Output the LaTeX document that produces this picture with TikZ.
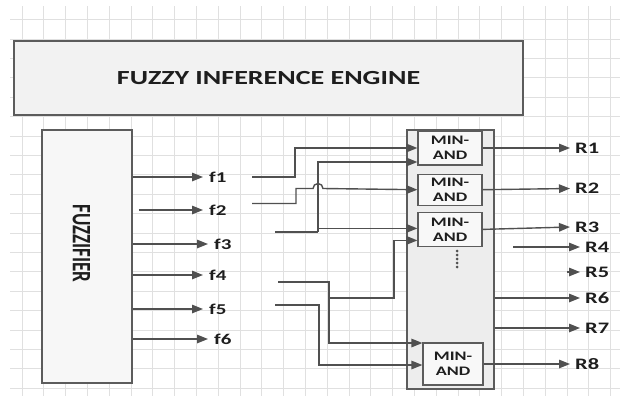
\documentclass[tikz,border=0pt]{standalone}
\usepackage{fontspec}
\setmainfont{Carlito}[FakeStretch=1.4]
\newfontfamily\sidefont{Carlito}
\usepackage{graphicx}
\usetikzlibrary{arrows.meta,positioning}
\definecolor{wire}{HTML}{505050}
\definecolor{frame}{HTML}{5C5C5C}
\definecolor{paper}{HTML}{F2F2F2}
\definecolor{panel}{HTML}{EDEDED}
\definecolor{cellfill}{HTML}{F8F8F8}
\definecolor{gridgray}{HTML}{E0E0E0}
\definecolor{inktext}{HTML}{1E1E1E}

\begin{document}
\begin{tikzpicture}[x=1pt,y=-1pt,
  block/.style={draw=frame, line width=1.6pt, fill=paper, inner sep=0pt, text=inktext},
  cell/.style={draw=frame, line width=1.2pt, fill=cellfill, minimum width=64pt, align=center,
               inner sep=0pt, font=\bfseries\fontsize{13}{15}\selectfont, text=inktext},
  flab/.style={anchor=west, inner sep=0pt, inner xsep=6pt, font=\bfseries\fontsize{15}{15}\selectfont, text=inktext},
  rlab/.style={anchor=west, inner sep=0pt, inner xsep=5pt, font=\bfseries\fontsize{16}{16}\selectfont, text=inktext},
  arr/.style={-{Triangle[length=11pt,width=8.5pt]}, line width=1.4pt, draw=wire},
  heavy/.style={line width=2.4pt, draw=wire},
  gridline/.style={draw=gridgray, line width=0.6pt}
]
  \useasboundingbox (0,0) rectangle (620,410);
  \draw[gridline, xstep=21.8pt, ystep=19.4pt] (10,396) grid (620,6);

  \node[block, minimum width=509pt, minimum height=74pt, font=\bfseries\fontsize{20}{20}\selectfont] (engine) at (268.5,78) {FUZZY INFERENCE ENGINE};

  \node[block, fill=paper!60, minimum width=90pt, minimum height=253pt] (fuzz) at (87,256.5) {};
  \node[rotate=-90, text=inktext, font=\sidefont\bfseries\fontsize{19}{19}\selectfont] (fuzzname) at (81.5,243.5) {\scalebox{1}[1.4]{FUZZIFIER}};

  \node[block, fill=panel, line width=1.2pt, minimum width=87pt, minimum height=259pt] (rules) at (450.5,259.5) {};
  \node[cell, minimum height=34pt] (and1) at (450,148) {MIN-\\AND};
  \node[cell, minimum height=31pt, below=8pt of and1] (and2) {MIN-\\AND};
  \node[cell, minimum height=34pt, below=6pt of and2] (and3) {MIN-\\AND};
  \node[cell, minimum width=60pt, minimum height=42pt] (and4) at (453,364) {MIN-\\AND};
  \foreach \k in {0,...,4} \fill[wire] (457,251+4*\k) circle (1.5pt);

  % fuzzified inputs
  \node[flab] (f1) at (203,177) {f1};
  \node[flab] (f2) at (203,210) {f2};
  \node[flab] (f3) at (208,244) {f3};
  \node[flab] (f4) at (203,275) {f4};
  \node[flab] (f5) at (203,309) {f5};
  \node[flab] (f6) at (208,339) {f6};
  \draw[arr] (fuzz.east |- f1) -- (f1.west);
  \draw[arr] (fuzz.east |- f2) ++(6,0) -- (f2.west);
  \draw[arr] (fuzz.east |- f3) -- (f3.west);
  \draw[arr] (fuzz.east |- f4) -- (f4.west);
  \draw[arr] (fuzz.east |- f5) -- (f5.west);
  \draw[arr] (fuzz.east |- f6) -- (f6.west);

  % rule inputs
  \coordinate (g1) at (252,177);
  \coordinate (g2) at (252,203.5);
  \coordinate (g3) at (275,232);
  \coordinate (g4) at (278,282);
  \coordinate (g5) at (275,305);
  \coordinate (j3) at (318,232);
  \coordinate (j4) at (329,282);
  \coordinate (k4) at (329,298);
  \coordinate (a1i2) at ([yshift=-14pt]and1.west);
  \coordinate (a3i1) at ([yshift=1pt]and3.west);
  \coordinate (a3i2) at ([yshift=-11pt]and3.west);
  \coordinate (a4i1) at ([yshift=21pt]and4.west);
  \coordinate (a4i2) at ([yshift=-1pt]and4.west);
  \draw[arr] (g1) -- ++(43,0) |- (and1.west);
  \draw[arr] (g2) -- ++(44,0) -- ++(0,-15) -- ++(17,0) arc[start angle=180, end angle=360, radius=5] -- (and2.west);
  \draw[heavy] (g3) -- (j3);
  \draw[arr] (j3) |- (a1i2);
  \draw[arr] (a3i1 -| j3) -- (a3i1);
  \draw[arr] (g4) -- (j4) |- (a4i1);
  \draw[arr] (k4) -- ++(65,0) |- (a3i2);
  \draw[arr] (g5) -- ++(44,0) |- (a4i2);

  % rule outputs
  \node[rlab] (R1) at (570,148) {R1};
  \node[rlab] (R2) at (570,188.5) {R2};
  \node[rlab] (R3) at (570,227) {R3};
  \node[rlab] (R4) at (580,247) {R4};
  \node[rlab] (R5) at (580,272) {R5};
  \node[rlab] (R6) at (580,298) {R6};
  \node[rlab] (R7) at (580,328) {R7};
  \node[rlab] (R8) at (570,364) {R8};
  \coordinate (t4) at (513,247);
  \coordinate (t5) at (567,272);
  \draw[arr] (and1.east) -- (R1.west);
  \draw[arr] (and2.east) -- (R2.west);
  \draw[arr] (and3.east) -- (R3.west);
  \draw[arr] (t4) -- (R4.west);
  \draw[arr] (t5) -- (R5.west);
  \draw[arr] (rules.east |- R6) -- (R6.west);
  \draw[arr] (rules.east |- R7) -- (R7.west);
  \draw[arr] (and4.east) -- (R8.west);
\end{tikzpicture}
\end{document}
